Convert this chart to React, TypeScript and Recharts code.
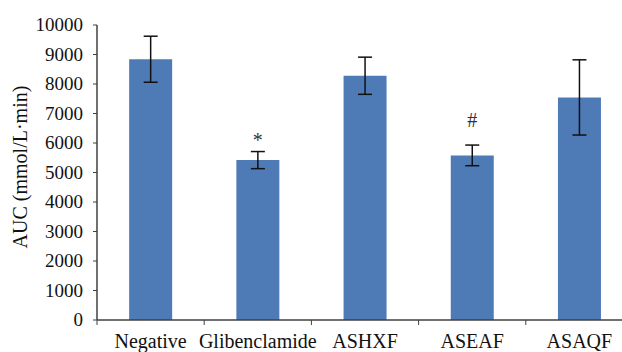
import { BarChart, Bar, XAxis, YAxis, ErrorBar, ReferenceDot } from 'recharts';

const groups = ['Negative', 'Glibenclamide', 'ASHXF', 'ASEAF', 'ASAQF'];
const aucMeans = [8840, 5420, 8280, 5580, 7545];
const aucErrors = [780, 290, 630, 350, 1275];
// significance marks and the value level where each mark's baseline sits
const sigMarks = ['', '*', '', '#', ''];
const sigLevels = [0, 5860, 0, 6540, 0];
const yTicks = [0, 1000, 2000, 3000, 4000, 5000, 6000, 7000, 8000, 9000, 10000];

const FONT = '"Liberation Serif", "DejaVu Serif", serif';
const AXIS = '#404040';
const BAR = '#4e7bb6';

const chartData = groups.map((name, i) => ({
  name,
  auc: aucMeans[i],
  err: aucErrors[i],
}));

// category label at the band centre, small tick at the band's left edge
const CategoryTick = ({ x, y, payload }: any) => {
  const half = payload?.offset ?? 53.6;
  return (
    <g>
      <line x1={x - half} y1={y} x2={x - half} y2={y + 5} stroke={AXIS} strokeWidth={1} />
      <text x={x} y={y + 28} textAnchor="middle" fontFamily={FONT} fontSize={20} fill="#111">
        {payload.value}
      </text>
    </g>
  );
};

const ValueTick = ({ x, y, payload }: any) => (
  <text x={x} y={y + 6} textAnchor="end" fontFamily={FONT} fontSize={19} fill="#111">
    {payload.value}
  </text>
);

const YTitle = () => (
  <text
    x={27}
    y={167}
    transform="rotate(-90, 27, 167)"
    textAnchor="middle"
    fontFamily={FONT}
    fontSize={20}
    fill="#111"
  >
    AUC (mmol/L·min)
  </text>
);

export default function App() {
  return (
    <div style={{ position: 'absolute', left: 0, top: 0, width: 622, height: 352, overflow: 'hidden', background: '#fff' }}>
      <BarChart
        width={650}
        height={352}
        data={chartData}
        margin={{ top: 25, right: 17, left: 0, bottom: 0 }}
        barCategoryGap="30%"
      >
        <XAxis
          dataKey="name"
          axisLine={{ stroke: AXIS, strokeWidth: 1.5 }}
          tickLine={false}
          tickSize={0}
          tickMargin={0}
          height={32}
          interval={0}
          tick={<CategoryTick />}
        />
        <YAxis
          domain={[0, 10000]}
          ticks={yTicks}
          width={97}
          axisLine={{ stroke: AXIS, strokeWidth: 1.5 }}
          tickLine={{ stroke: AXIS }}
          tickSize={4}
          tickMargin={10}
          tick={<ValueTick />}
          label={<YTitle />}
        />
        <Bar dataKey="auc" fill={BAR} isAnimationActive={false}>
          <ErrorBar dataKey="err" width={7} stroke="#111" strokeWidth={1.5} isAnimationActive={false} />
        </Bar>
        {groups.map((g, i) =>
          sigMarks[i] ? (
            <ReferenceDot
              key={g}
              x={g}
              y={sigLevels[i]}
              r={0}
              ifOverflow="visible"
              shape={(p: any) => (
                <text x={p.cx} y={p.cy} textAnchor="middle" fontFamily={FONT} fontSize={20} fill="#333">
                  {sigMarks[i]}
                </text>
              )}
            />
          ) : null
        )}
      </BarChart>
    </div>
  );
}
